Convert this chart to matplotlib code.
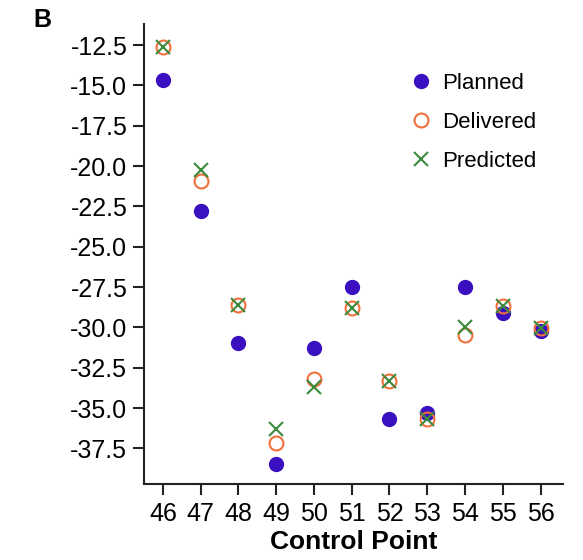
import matplotlib
matplotlib.use("Agg")
import matplotlib.pyplot as plt
import numpy as np

# Data
control_points = [46, 47, 48, 49, 50, 51, 52, 53, 54, 55, 56]
planned = [-14.65, -22.8, -30.95, -38.5, -31.25, -27.5, -35.65, -35.3, -27.5, -29.1, -30.25]
delivered = [-12.6, -20.9, -28.6, -37.15, -33.2, -28.8, -33.3, -35.65, -30.45, -28.7, -30.05]
predicted = [-12.6, -20.25, -28.6, -36.3, -33.7, -28.8, -33.3, -35.65, -29.95, -28.7, -30.05]
y_ticks = [-12.5, -15.0, -17.5, -20.0, -22.5, -25.0, -27.5, -30.0, -32.5, -35.0, -37.5]

plt.rcParams["font.family"] = ["Liberation Sans", "DejaVu Sans"]
plt.rcParams["axes.unicode_minus"] = False

fig = plt.figure(figsize=(5.83, 5.60), dpi=100)
ax = fig.add_axes([0.247, 0.136, 0.719, 0.821])

ax.plot(control_points, planned, linestyle="none", marker="o", markersize=10,
        color="#3a10c0", label="Planned")
ax.plot(control_points, delivered, linestyle="none", marker="o", markersize=10,
        markerfacecolor="none", markeredgecolor="#f0703c", markeredgewidth=1.5,
        label="Delivered")
ax.plot(control_points, predicted, linestyle="none", marker="x", markersize=10,
        color="#3c8a3c", markeredgewidth=1.5, label="Predicted")

ax.set_xlim(45.5, 56.6)
ax.set_ylim(-39.7, -11.2)
ax.set_xticks(control_points)
ax.set_yticks(y_ticks)
ax.set_yticklabels([f"{v:.1f}" for v in y_ticks])

for side in ["top", "right"]:
    ax.spines[side].set_visible(False)
for side in ["left", "bottom"]:
    ax.spines[side].set_linewidth(1.5)
    ax.spines[side].set_color("#222222")

ax.tick_params(axis="both", direction="out", length=8, width=1.5,
               labelsize=18, color="#222222")
ax.tick_params(axis="y", pad=4)
ax.tick_params(axis="x", pad=5)
ax.set_xlabel("Control Point", fontsize=19, fontweight="bold", labelpad=3)

ax.legend(loc="upper left", bbox_to_anchor=(0.665, 0.905),
          bbox_transform=fig.transFigure, frameon=False, fontsize=16,
          handletextpad=0.35, labelspacing=0.8, handlelength=1.2)

fig.text(0.058, 0.985, "B", fontsize=18, fontweight="bold", va="top", ha="left")

fig.savefig("out.png", dpi=100)
